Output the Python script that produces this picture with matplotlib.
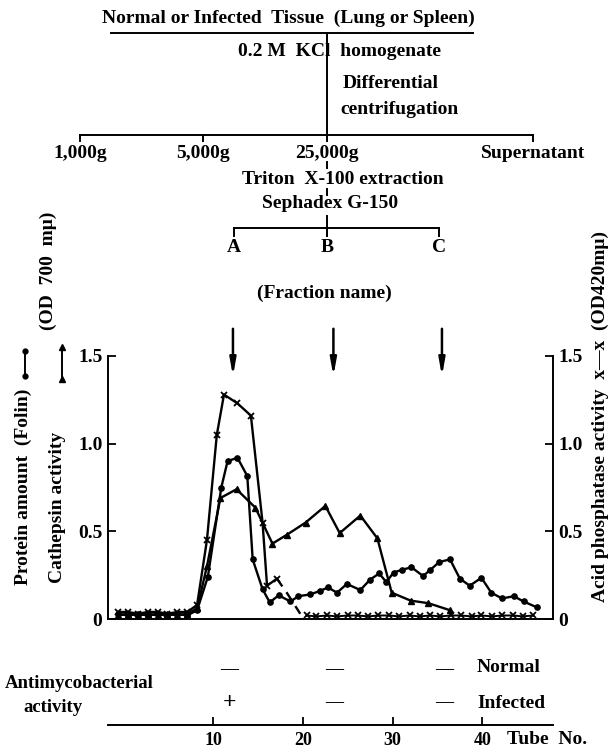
import matplotlib.pyplot as plt
from matplotlib.transforms import blended_transform_factory

plt.rcParams['font.family'] = ['Liberation Serif', 'DejaVu Serif']
plt.rcParams['font.weight'] = 'bold'

# ---- data (x = tube no., y = OD) ----
# acid phosphatase (x markers), solid part
acp_tube = [-0.6, 0.5, 1.6, 2.7, 3.8, 4.9, 6.0, 7.1, 8.2, 9.3, 10.4, 11.2,
            12.7, 14.2, 15.5, 16.0, 17.1]
acp_val = [0.04, 0.04, 0.03, 0.04, 0.04, 0.03, 0.04, 0.04, 0.08, 0.45, 1.05,
           1.28, 1.23, 1.16, 0.55, 0.19, 0.23]
# acid phosphatase, dashed drop
acp_dash_tube = [17.1, 18.2, 19.7]
acp_dash_val = [0.23, 0.15, 0.03]
# acid phosphatase, baseline tail
acp_tail_tube = [20.4, 21.5, 22.7, 23.8, 25.0, 26.1, 27.3, 28.4, 29.6, 30.7,
                 31.9, 33.0, 34.2, 35.3, 36.5, 37.6, 38.8, 39.9, 41.1, 42.2,
                 43.4, 44.5, 45.7]
acp_tail_val = [0.02, 0.015, 0.02, 0.015, 0.02, 0.02, 0.015, 0.02, 0.02,
                0.015, 0.02, 0.015, 0.02, 0.015, 0.02, 0.02, 0.015, 0.02,
                0.015, 0.02, 0.02, 0.015, 0.02]

# cathepsin activity (triangles)
cat_tube = [-0.6, 0.5, 1.6, 2.7, 3.8, 4.9, 6.0, 7.1, 8.2, 9.3, 10.8, 12.6,
            14.7, 16.6, 18.2, 20.3, 22.5, 24.1, 26.4, 28.3, 29.9, 32.0, 34.0,
            36.4]
cat_val = [0.02, 0.03, 0.02, 0.03, 0.02, 0.03, 0.02, 0.03, 0.06, 0.30, 0.69,
           0.74, 0.635, 0.43, 0.48, 0.55, 0.645, 0.49, 0.59, 0.46, 0.15,
           0.105, 0.09, 0.05]

# protein amount, Folin (circles)
prot_tube = [-0.6, 0.5, 1.6, 2.7, 3.8, 4.9, 6.0, 7.1, 8.2, 9.4, 10.9, 11.6,
             12.7, 13.8, 14.4, 15.5, 16.3, 17.3, 18.6, 19.5, 20.8, 21.9,
             22.8, 23.8, 24.9, 26.4, 27.5, 28.5, 29.3, 30.1, 31.0, 32.1,
             33.4, 34.2, 35.2, 36.4, 37.5, 38.6, 39.9, 41.0, 42.2, 43.5,
             44.6, 46.1]
prot_val = [0.03, 0.02, 0.03, 0.02, 0.03, 0.02, 0.03, 0.02, 0.05, 0.24, 0.75,
            0.90, 0.92, 0.815, 0.34, 0.17, 0.095, 0.135, 0.10, 0.13, 0.14,
            0.16, 0.18, 0.15, 0.20, 0.165, 0.225, 0.26, 0.21, 0.265, 0.28,
            0.295, 0.245, 0.28, 0.325, 0.34, 0.23, 0.19, 0.235, 0.15, 0.117,
            0.13, 0.10, 0.066]

# fractions A, B, C and antimycobacterial activity
fraction_tube = [12.2, 23.4, 35.5]
activity_tube = [11.8, 23.5, 35.7]
normal_marks = ['\u2014', '\u2014', '\u2014']
infected_marks = ['+', '\u2014', '\u2014']
tube_ticks = [10, 20, 30, 40]

W, H = 611, 750
fig = plt.figure(figsize=(W / 100, H / 100), dpi=100)

# overlay in pixel units (y downwards) for the flow chart and labels
ov = fig.add_axes([0, 0, 1, 1])
ov.set_xlim(0, W)
ov.set_ylim(H, 0)
ov.axis('off')

# main chart
ax = fig.add_axes([108 / W, (H - 619) / H, 445 / W, 263 / H])
ax.set_xlim(-1.73, 47.88)
ax.set_ylim(0, 1.5)
ax.set_zorder(2)
ax.patch.set_visible(False)

lw = 1.7
ax.plot(acp_tube, acp_val, color='black', lw=lw, marker='x', ms=4, mew=1.3)
ax.plot(acp_dash_tube, acp_dash_val, color='black', lw=lw, ls=(0, (4, 3)))
ax.plot(acp_tail_tube, acp_tail_val, color='black', lw=1.4, marker='x', ms=4, mew=1.3)
ax.plot(cat_tube, cat_val, color='black', lw=lw, marker='^', ms=4.5)
ax.plot(prot_tube, prot_val, color='black', lw=lw, marker='o', ms=3.8)

ax.spines['top'].set_visible(False)
for s in ['left', 'right', 'bottom']:
    ax.spines[s].set_linewidth(1.4)
ax.set_xticks([])
ax.set_yticks([0, 0.5, 1.0, 1.5])
ax.set_yticklabels(['0', '0.5', '1.0', '1.5'])
ax.tick_params(axis='y', direction='in', length=6, width=1.3, labelsize=14,
               left=True, right=True, labelleft=True, labelright=True, pad=4)

# bottom tube-number axis
tax = fig.add_axes([108 / W, (H - 725) / H, 445 / W, 0.0001])
tax.set_xlim(ax.get_xlim())
tax.patch.set_visible(False)
for s in ['top', 'left', 'right']:
    tax.spines[s].set_visible(False)
tax.spines['bottom'].set_linewidth(1.4)
tax.set_yticks([])
tax.set_xticks(tube_ticks)
tax.tick_params(axis='x', direction='in', length=6, width=1.3, labelsize=13, pad=5)

# fraction arrows and activity marks (x in tube units, y in pixels)
bt = blended_transform_factory(ax.transData, ov.transData)
for t in fraction_tube:
    ov.annotate('', xy=(t, 379), xytext=(t, 326), xycoords=bt, textcoords=bt,
                arrowprops=dict(arrowstyle='-|>,head_length=1.0,head_width=0.18',
                                color='black', lw=1.8))
for t, n, i in zip(activity_tube, normal_marks, infected_marks):
    ov.text(t, 670, n, transform=bt, ha='center', va='center', fontsize=13)
    ov.text(t, 703, i, transform=bt, ha='center', va='center',
            fontsize=17 if i == '+' else 13)

fs = 14
k = dict(color='black', lw=1.4)
# flow chart
ov.text(288, 18, 'Normal or Infected  Tissue  (Lung or Spleen)', ha='center', va='center', fontsize=fs)
ov.plot([111, 473], [33, 33], **k)
ov.plot([327, 327], [33, 135], **k)
ov.text(340, 52, '0.2 M  KCl  homogenate', ha='center', va='center', fontsize=fs)
ov.text(343, 83, 'Differential', ha='left', va='center', fontsize=fs)
ov.text(340, 110, 'centrifugation', ha='left', va='center', fontsize=fs)
ov.plot([80, 533], [135, 135], **k)
for xx, lab in zip([80, 203, 327, 533], ['1,000g', '5,000g', '25,000g', 'Supernatant']):
    ov.plot([xx, xx], [135, 141], **k)
    ov.text(xx, 154, lab, ha='center', va='center', fontsize=fs)
for y0, y1 in [(162, 168), (189, 195), (216, 236)]:
    ov.plot([327, 327], [y0, y1], **k)
ov.text(343, 180, 'Triton  X-100 extraction', ha='center', va='center', fontsize=fs)
ov.text(330, 204, 'Sephadex G-150', ha='center', va='center', fontsize=fs)
ov.plot([234, 439], [228, 228], **k)
for xx, lab in zip([234, 327, 439], ['A', 'B', 'C']):
    ov.plot([xx, xx], [228, 236], **k)
    ov.text(xx, 247, lab, ha='center', va='center', fontsize=fs)
ov.text(324, 293, '(Fraction name)', ha='center', va='center', fontsize=fs)

# axis titles
ov.text(23, 487, 'Protein amount  (Folin)', rotation=90, ha='center', va='center', fontsize=fs)
ov.plot([25, 25], [351, 376], color='black', lw=1.4, marker='o', ms=3.5)
ov.text(48, 271, '(OD  700  m\u03bc)', rotation=90, ha='center', va='center', fontsize=fs)
ov.text(58, 507, 'Cathepsin activity', rotation=90, ha='center', va='center', fontsize=fs)
ov.plot([62, 62], [347, 379], color='black', lw=1.4, marker='^', ms=4)
ov.text(600, 416, 'Acid phosphatase activity  x\u2014x  (OD420m\u03bc)', rotation=90,
        ha='center', va='center', fontsize=fs)

# activity rows and tube label
ov.text(5, 683, 'Antimycobacterial', ha='left', va='center', fontsize=13.5)
ov.text(53, 708, 'activity', ha='center', va='center', fontsize=13.5)
ov.text(477, 668, 'Normal', ha='left', va='center', fontsize=fs)
ov.text(477, 703, 'Infected', ha='left', va='center', fontsize=fs)
ov.text(507, 739, 'Tube  No.', ha='left', va='center', fontsize=fs)

fig.savefig('out.png', dpi=100, facecolor='white')
